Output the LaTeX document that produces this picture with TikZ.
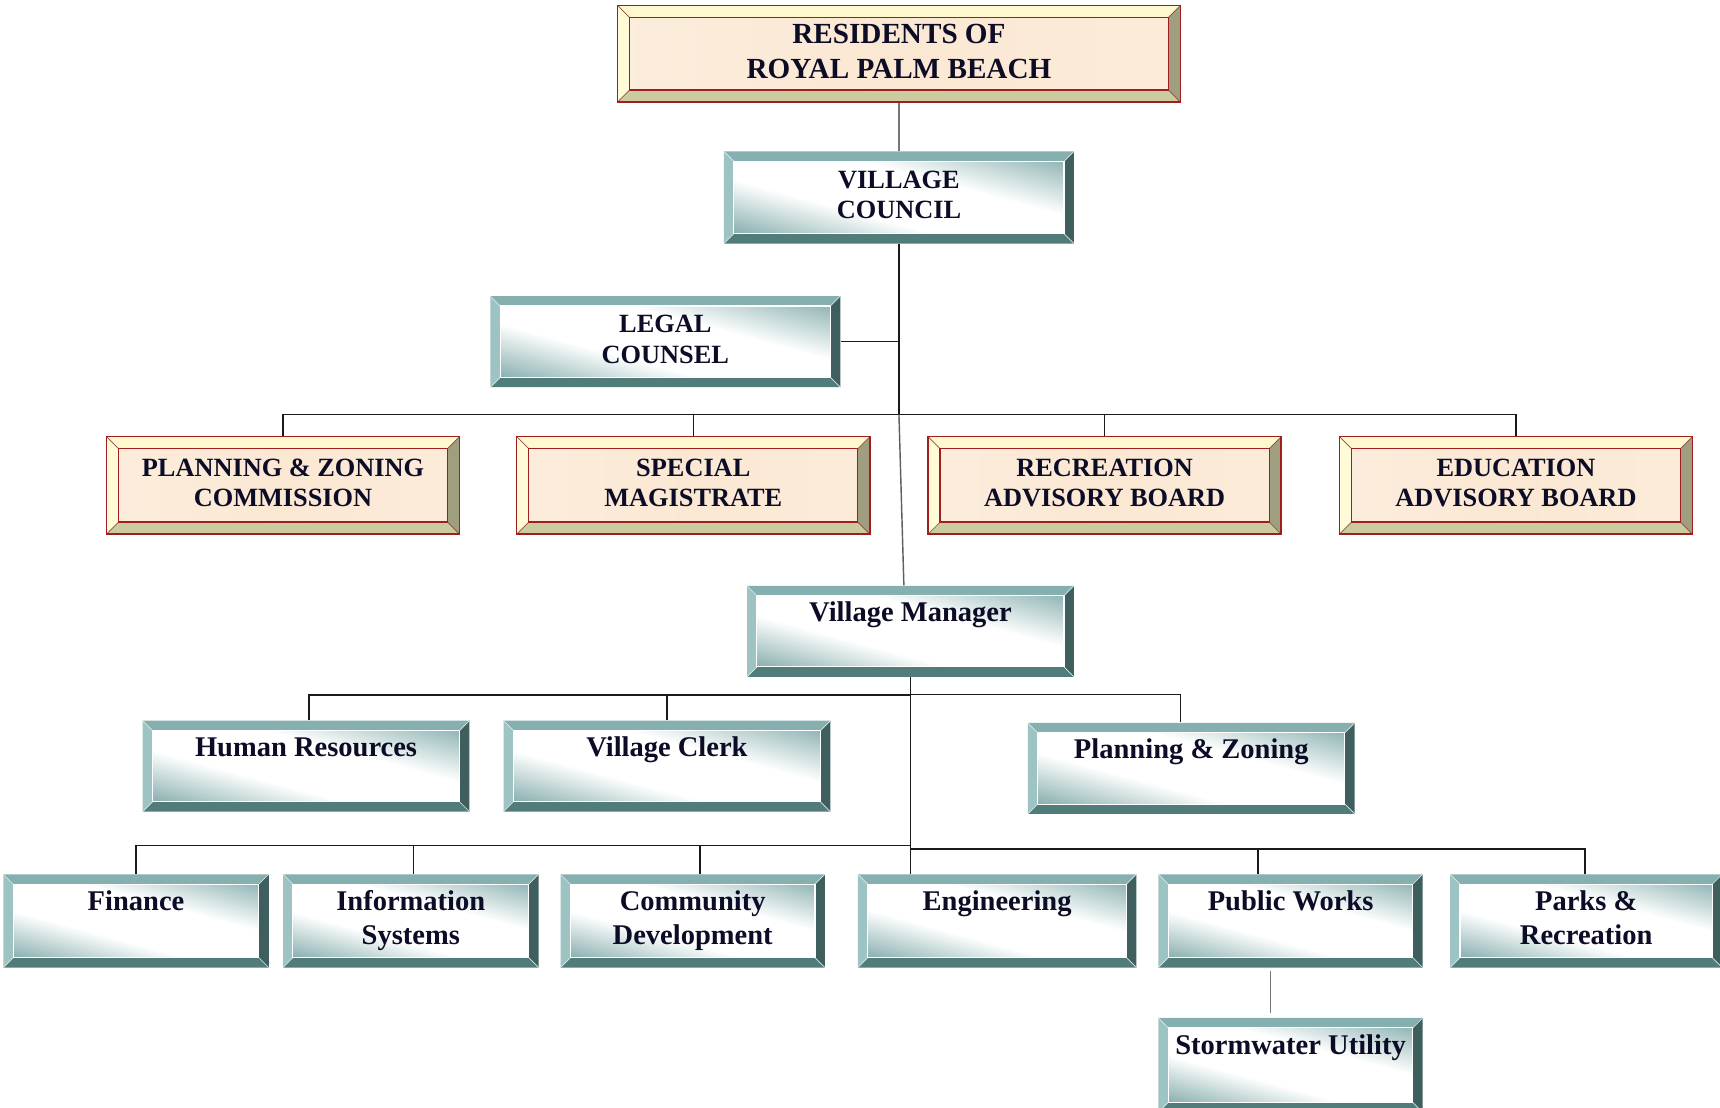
\documentclass[tikz,border=0pt]{standalone}
\usepackage{fontspec}
\setmainfont{Liberation Serif}
\usetikzlibrary{calc}
\definecolor{tTop}{HTML}{86AFAF}
\definecolor{tLeft}{HTML}{9DC3C3}
\definecolor{tRight}{HTML}{3F5F5E}
\definecolor{tBot}{HTML}{517C7A}
\definecolor{tFaceA}{HTML}{6A9A9A}
\definecolor{tFaceB}{HTML}{76A3A3}
\definecolor{bTop}{HTML}{FFF8CC}
\definecolor{bLeft}{HTML}{FFFBD6}
\definecolor{bRight}{HTML}{9F9E7E}
\definecolor{bBot}{HTML}{CBCBA0}
\definecolor{bFace}{HTML}{FBE8D3}
\definecolor{bRed}{HTML}{A01E1E}
\definecolor{txtC}{HTML}{0C0C26}
\definecolor{lineC}{HTML}{1A1A1A}
\definecolor{lineG}{HTML}{777777}
\pgfdeclarehorizontalshading{tealface}{100bp}{color(0bp)=(tFaceA); color(14bp)=(tFaceA); color(40bp)=(white); color(60bp)=(white); color(86bp)=(tFaceB); color(100bp)=(tFaceB)}
\newcommand\mycorners[1]{%
  \coordinate (oSW) at (path picture bounding box.south west);
  \coordinate (oNE) at (path picture bounding box.north east);
  \coordinate (oNW) at (path picture bounding box.north west);
  \coordinate (oSE) at (path picture bounding box.south east);
  \coordinate (iSW) at ([shift={(#1,#1)}]oSW);
  \coordinate (iNE) at ([shift={(-#1,-#1)}]oNE);
  \coordinate (iNW) at ([shift={(#1,-#1)}]oNW);
  \coordinate (iSE) at ([shift={(-#1,#1)}]oSE);
}
\newcommand\tealbevel{%
  \mycorners{4.5pt}%
  \fill[tTop] (oNW)--(oNE)--(iNE)--(iNW)--cycle;
  \fill[tBot] (oSW)--(oSE)--(iSE)--(iSW)--cycle;
  \fill[tLeft] (oNW)--(oSW)--(iSW)--(iNW)--cycle;
  \fill[tRight] (oNE)--(oSE)--(iSE)--(iNE)--cycle;
  \shade[shading=tealface, shading angle=75] (iSW) rectangle (iNE);
  \draw[white, line width=0.5pt] (iSW) rectangle (iNE);
  \draw[white!70!tTop, line width=0.3pt] (oSW)--(iSW) (oNW)--(iNW) (oNE)--(iNE) (oSE)--(iSE);
}
\newcommand\beigebevel{%
  \mycorners{5.5pt}%
  \fill[bTop] (oNW)--(oNE)--(iNE)--(iNW)--cycle;
  \fill[bBot] (oSW)--(oSE)--(iSE)--(iSW)--cycle;
  \fill[bLeft] (oNW)--(oSW)--(iSW)--(iNW)--cycle;
  \fill[bRight] (oNE)--(oSE)--(iSE)--(iNE)--cycle;
  \shade[left color=bFace!80!white, right color=bFace!85!white, middle color=bFace] (iSW) rectangle (iNE);
  \draw[bRed!60!gray, line width=0.3pt] (oSW)--(iSW) (oNW)--(iNW) (oNE)--(iNE) (oSE)--(iSE);
  \draw[bRed, line width=0.6pt] (iSW) rectangle (iNE);
}
\tikzset{
  x=0.5pt, y=-0.5pt,
  sz/.style 2 args={minimum width=#1*0.5pt, minimum height=#2*0.5pt},
  boxbase/.style={rectangle, inner sep=0pt, align=center, text=txtC},
  tealbox/.style={boxbase, path picture={\tealbevel}},
  beigebox/.style={boxbase, draw=bRed, line width=0.7pt, path picture={\beigebevel}},
  fUp/.style={font=\fontsize{12}{14}\selectfont\bfseries},
  fRes/.style={font=\fontsize{13.3}{16}\selectfont\bfseries},
  fMix/.style={font=\fontsize{13}{15.5}\selectfont\bfseries},
  conn/.style={draw=lineC, line width=0.65pt},
  connG/.style={draw=lineG, line width=0.65pt},
}
\begin{document}
\begin{tikzpicture}
\fill[white] (0,0) rectangle (1568,1010);
\useasboundingbox (0,0) rectangle (1568,1010);

% top levels
\node[beigebox, fRes, sz={513}{88}] (res) at (819.5,49) {RESIDENTS OF\strut\\ROYAL PALM BEACH\strut};
\node[tealbox, fUp, sz={319}{84}] (vc) at (819.5,180) {VILLAGE\strut\\COUNCIL\strut};
\node[tealbox, fUp, sz={319}{83}] (legal) at (606.5,311.5) {LEGAL\strut\\COUNSEL\strut};

% boards
\node[beigebox, fUp, sz={322}{89}] (pzc) at (258,442.5) {PLANNING \& ZONING\strut\\COMMISSION\strut};
\node[beigebox, fUp, sz={322}{89}] (sm) at (632,442.5) {SPECIAL\strut\\MAGISTRATE\strut};
\node[beigebox, fUp, sz={322}{89}] (rab) at (1007,442.5) {RECREATION\strut\\ADVISORY BOARD\strut};
\node[beigebox, fUp, sz={322}{89}] (eab) at (1382,442.5) {EDUCATION\strut\\ADVISORY BOARD\strut};

% manager
\node[tealbox, fMix, sz={298}{83}] (vm) at (830,575.5) {Village Manager\strut\\\strut};

% second row
\node[tealbox, fMix, sz={298}{83}] (hr) at (279,698.5) {Human Resources\strut\\\strut};
\node[tealbox, fMix, sz={298}{83}] (vcl) at (608,698.5) {Village Clerk\strut\\\strut};
\node[tealbox, fMix, sz={298}{83}] (pz) at (1086,700.5) {Planning \& Zoning\strut\\\strut};

% third row
\node[tealbox, fMix, sz={242}{85}] (fin) at (124,839.5) {Finance\strut\\\strut};
\node[tealbox, fMix, sz={233}{85}] (is) at (374.5,839.5) {Information\strut\\Systems\strut};
\node[tealbox, fMix, sz={241}{85}] (cd) at (631.5,839.5) {Community\strut\\Development\strut};
\node[tealbox, fMix, sz={254}{85}] (eng) at (909,839.5) {Engineering\strut\\\strut};
\node[tealbox, fMix, sz={241}{85}] (pw) at (1176.5,839.5) {Public Works\strut\\\strut};
\node[tealbox, fMix, sz={248}{85}] (pr) at (1446,839.5) {Parks \&\strut\\Recreation\strut};
\node[tealbox, fMix, sz={241}{86}] (sw) at (1176.5,971) {Stormwater Utility\strut\\\strut};

% connectors
\coordinate (j1) at (819.5,378);
\draw[connG] (res.south) -- (vc.north);
\draw[conn] (vc.south) -- (j1);
\draw[conn] (legal.east) -- (legal.east -| j1);
\draw[conn] (pzc.north) |- (eab.north |- j1) -- (eab.north);
\draw[conn] (sm.north) -- (sm.north |- j1);
\draw[conn] (rab.north) -- (rab.north |- j1);
\draw[conn, draw=lineC!70!white] (j1) -- ($(vm.north)+(-6,0)$);

\coordinate (j2) at (830,634);
\coordinate (j3) at (830,771);
\coordinate (j4) at (830,774);
\draw[conn] (vm.south) -- (vm.south |- eng.north);
\coordinate (hrd) at (282,634);
\coordinate (vcd) at (608,634);
\coordinate (pzd) at (1076,633);
\draw[conn, line width=0.9pt] (hr.north -| hrd) -- (hrd) -- (j2);
\draw[conn] (vcl.north -| vcd) -- (vcd);
\draw[conn] (830,633) -- (pzd) -- (pz.north -| pzd);

\coordinate (find) at (124,771);
\coordinate (isd) at (377,771);
\coordinate (cdd) at (638,771);
\coordinate (pwd) at (1147,774);
\coordinate (prd) at (1445,774);
\draw[conn] (fin.north -| find) -- (find) -- (j3);
\draw[conn] (is.north -| isd) -- (isd);
\draw[conn] (cd.north -| cdd) -- (cdd);
\draw[conn] (j4) -- (prd) -- (pr.north -| prd);
\draw[conn] (pwd) -- (pw.north -| pwd);
\coordinate (swd) at (1158,900);
\draw[connG] ([yshift=-1.5pt]pw.south -| swd) -- ([yshift=2pt]sw.north -| swd);
\end{tikzpicture}
\end{document}
